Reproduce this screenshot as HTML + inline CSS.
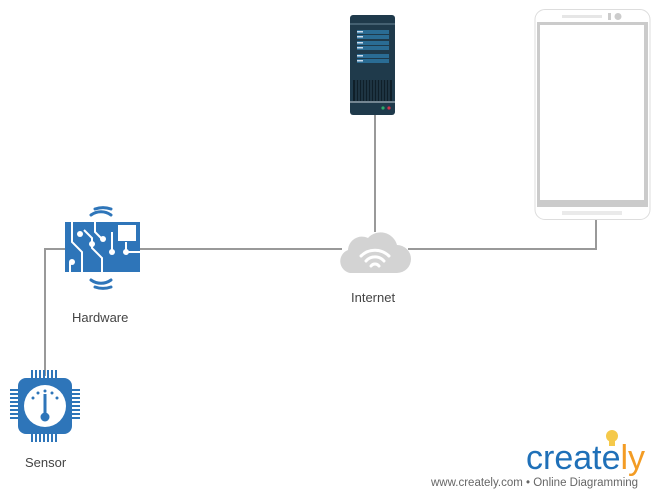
<!DOCTYPE html>
<html><head><style>
body{margin:0;width:660px;height:500px;background:#fff;position:relative;overflow:hidden;font-family:"Liberation Sans",sans-serif}
.lbl{position:absolute;font-size:13px;color:#444}
</style></head><body>
<svg width="660" height="500" style="position:absolute;left:0;top:0">
<g stroke="#999" stroke-width="2" fill="none">
<path d="M375 114V232"/>
<path d="M45 376V249H66"/>
<path d="M140 249H342"/>
<path d="M408 249H596V219"/>
</g>
<!-- server -->
<rect x="350" y="15" width="45" height="100" rx="3" fill="#1f3a4b"/>
<line x1="350" y1="24" x2="395" y2="24" stroke="#6a8797" stroke-width="1"/>
<g fill="#2a6c94">
<rect x="357" y="30" width="32" height="4"/><rect x="357" y="35" width="32" height="4"/>
<rect x="357" y="41" width="32" height="4"/><rect x="357" y="46" width="32" height="4"/>
<rect x="357" y="54" width="32" height="4"/><rect x="357" y="59" width="32" height="4"/>
</g>
<g fill="#cde"><rect x="357" y="31" width="6" height="1.5"/><rect x="357" y="36" width="6" height="1.5"/><rect x="357" y="42" width="6" height="1.5"/><rect x="357" y="47" width="6" height="1.5"/><rect x="357" y="55" width="6" height="1.5"/><rect x="357" y="60" width="6" height="1.5"/></g>
<rect x="353" y="80" width="39" height="21" fill="#0f1f29"/>
<g stroke="#2d4a5b" stroke-width="1"><path d="M356 80v21M359 80v21M362 80v21M365 80v21M368 80v21M371 80v21M374 80v21M377 80v21M380 80v21M383 80v21M386 80v21M389 80v21"/></g>
<line x1="350" y1="102" x2="395" y2="102" stroke="#c8d2d8"/>
<circle cx="383" cy="108" r="1.6" fill="#2eaa6a"/><circle cx="389" cy="108" r="1.6" fill="#d2334a"/>
<!-- phone -->
<rect x="535" y="9.5" width="115" height="210" rx="10" fill="#fff" stroke="#ddd"/>
<rect x="537" y="22" width="111" height="185" fill="#cbcbcb"/>
<rect x="540" y="25" width="104" height="175" fill="#fff"/>
<rect x="562" y="15" width="40" height="3" fill="#e6e6e6"/>
<rect x="608" y="13" width="3" height="7" fill="#ccc"/>
<circle cx="618" cy="16.5" r="3.5" fill="#ccc"/>
<rect x="562" y="211" width="60" height="4" fill="#eaeaea"/>
<!-- cloud -->
<path d="M350 273a12 12 0 0 1-2-23a14 14 0 0 1 20-12a17 17 0 0 1 29 7a14 14 0 0 1 0 28z" fill="#d3d3d3"/>
<g fill="none" stroke="#fff" stroke-width="3" stroke-linecap="round">
<path d="M361 256a20 20 0 0 1 28 0"/><path d="M366 261a12 12 0 0 1 18 0"/><path d="M371 266a5 5 0 0 1 8 0"/>
</g>
<!-- hardware -->
<rect x="65" y="222" width="75" height="50" fill="#2e75b9"/>
<g fill="none" stroke="#2e75b9" stroke-width="3" stroke-linecap="round">
<path d="M91 215a17 17 0 0 1 20 0"/><path d="M95 209a24 24 0 0 1 16 0"/>
<path d="M91 280a17 17 0 0 0 20 0"/><path d="M95 287a24 24 0 0 0 16 0"/>
</g>
<g stroke="#fff" stroke-width="2" fill="none">
<path d="M72 222v20l10 10v20"/><path d="M84 230l8 8v10l10 10v14"/><path d="M95 222v10l6 6"/><path d="M112 232v20"/><path d="M126 242v10h14"/><path d="M70 262v10"/>
</g>
<g fill="#fff"><rect x="118" y="225" width="18" height="16"/><circle cx="80" cy="234" r="3"/><circle cx="103" cy="239" r="3"/><circle cx="112" cy="252" r="3"/><circle cx="126" cy="252" r="3"/><circle cx="72" cy="262" r="3"/><circle cx="92" cy="244" r="3"/></g>
<!-- sensor -->
<g stroke="#2e75b9" stroke-width="2">
<path d="M32 370v8M36 370v8M40 370v8M44 370v8M48 370v8M52 370v8M56 370v8"/>
<path d="M32 434v8M36 434v8M40 434v8M44 434v8M48 434v8M52 434v8M56 434v8"/>
<path d="M10 390h8M10 394h8M10 398h8M10 402h8M10 406h8M10 410h8M10 414h8M10 418h8"/>
<path d="M72 390h8M72 394h8M72 398h8M72 402h8M72 406h8M72 410h8M72 414h8M72 418h8"/>
</g>
<rect x="18" y="378" width="54" height="56" rx="8" fill="#2e75b9"/>
<circle cx="45" cy="406" r="21" fill="#fff"/>
<g fill="#2e75b9"><rect x="43.5" y="394" width="3" height="20"/><circle cx="45" cy="417" r="4.5"/><circle cx="33" cy="398" r="1.5"/><circle cx="38" cy="393" r="1.5"/><circle cx="52" cy="393" r="1.5"/><circle cx="57" cy="398" r="1.5"/><circle cx="45" cy="391" r="1.5"/></g>
<!-- logo bulb -->
<circle cx="612" cy="436" r="6" fill="#f5c94a"/><rect x="609" y="441" width="6" height="5" fill="#f5c94a"/>
</svg>
<div class="lbl" style="left:72px;top:310px">Hardware</div>
<div class="lbl" style="left:351px;top:290px">Internet</div>
<div class="lbl" style="left:25px;top:455px">Sensor</div>
<div style="position:absolute;left:526px;top:438px;font-size:34px;color:#1f70b8;letter-spacing:0px;line-height:40px">create<span style="color:#f39c24">ly</span></div>
<div style="position:absolute;left:431px;top:477px;font-size:11.5px;color:#666">www.creately.com • Online Diagramming</div>
</body></html>
